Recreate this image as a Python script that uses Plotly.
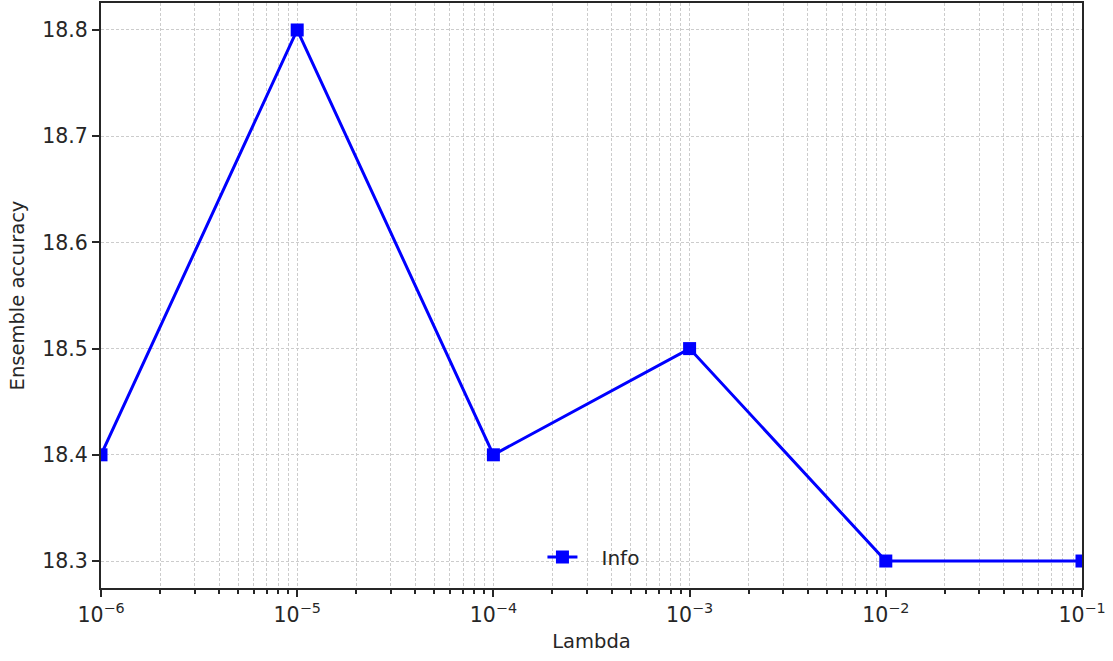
import numpy as np
import plotly.graph_objects as go

lambdas = [1e-6, 1e-5, 1e-4, 1e-3, 1e-2, 1e-1]
accuracy = [18.4, 18.8, 18.4, 18.5, 18.3, 18.3]
series_name = "Info"
x_tick_vals = [1e-6, 1e-5, 1e-4, 1e-3, 1e-2, 1e-1]
x_tick_text = ["10<sup>−6</sup>", "10<sup>−5</sup>", "10<sup>−4</sup>",
               "10<sup>−3</sup>", "10<sup>−2</sup>", "10<sup>−1</sup>"]
y_tick_vals = [18.3, 18.4, 18.5, 18.6, 18.7, 18.8]

minor_vals = [m * 10.0 ** e for e in range(-6, -1) for m in range(2, 10)]

FONT = "DejaVu Sans"
TXT = "#262626"
AX = "#262626"
GRID = "#cccccc"
DASH = "3px,2px"

fig = go.Figure()
fig.add_trace(go.Scatter(
    x=lambdas, y=accuracy, mode="lines+markers",
    name="\u00a0\u00a0\u00a0" + series_name,
    line=dict(color="#0000ff", width=3),
    marker=dict(symbol="square", size=13, color="#0000ff"),
))

fig.update_layout(
    width=1113, height=661,
    margin=dict(l=101, r=31, t=3, b=73, autoexpand=False),
    paper_bgcolor="white", plot_bgcolor="white",
    font=dict(family=FONT, size=20, color=TXT),
    showlegend=True,
    legend=dict(x=0.450, y=0.053, xanchor="left", yanchor="middle",
                bgcolor="rgba(0,0,0,0)", font=dict(size=20, color=TXT)),
)
fig.update_xaxes(
    type="log", range=[-6, -1], automargin=False,
    tickmode="array", tickvals=x_tick_vals, ticktext=x_tick_text,
    ticks="outside", ticklen=7, tickwidth=1.5, tickcolor=AX,
    showline=True, linecolor=AX, linewidth=2, mirror=True,
    showgrid=True, gridcolor=GRID, griddash=DASH, gridwidth=1,
    zeroline=False,
    minor=dict(tickmode="array", tickvals=minor_vals, ticks="outside", ticklen=4,
               tickcolor=AX, showgrid=True, gridcolor=GRID, griddash=DASH, gridwidth=1),
    title=dict(text="Lambda", font=dict(size=19.5, color=TXT), standoff=9),
    tickfont=dict(size=20.5, color=TXT),
)
fig.update_yaxes(
    range=[18.2746, 18.8254], automargin=False,
    tickmode="array", tickvals=y_tick_vals,
    ticktext=[f"{v:.1f}" for v in y_tick_vals],
    ticks="outside", ticklen=7, tickwidth=1.5, tickcolor=AX,
    showline=True, linecolor=AX, linewidth=2, mirror=True,
    showgrid=True, gridcolor=GRID, griddash=DASH, gridwidth=1,
    zeroline=False,
    title=dict(text="Ensemble accuracy", font=dict(size=19.5, color=TXT), standoff=12),
    tickfont=dict(size=20.5, color=TXT),
)

fig.write_html("out.html", config={"displayModeBar": False},
               post_script="document.body.style.margin='0';")
